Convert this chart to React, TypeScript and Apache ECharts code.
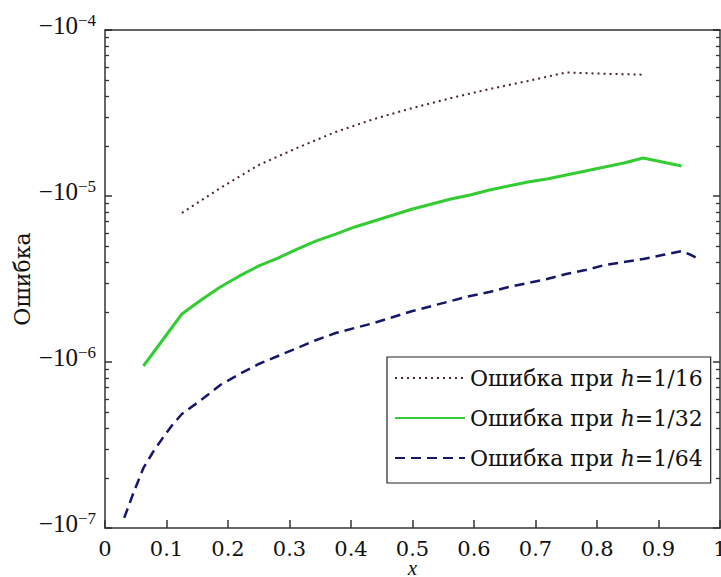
import React, { useEffect, useRef } from "react";
import * as echarts from "echarts";

const X_TICKS = [0, 0.1, 0.2, 0.3, 0.4, 0.5, 0.6, 0.7, 0.8, 0.9, 1];

const X16 = [0.125, 0.1875, 0.25, 0.3125, 0.375, 0.4375, 0.5, 0.5625, 0.625, 0.6875, 0.75, 0.8125, 0.875];
const ERR16 = [7.9e-6, 1.117e-5, 1.537e-5, 1.95e-5, 2.43e-5, 2.91e-5, 3.39e-5, 3.89e-5, 4.41e-5, 4.93e-5, 5.55e-5, 5.45e-5, 5.38e-5];

const X32 = [0.0625, 0.09375, 0.125, 0.15625, 0.1875, 0.21875, 0.25, 0.28125, 0.3125, 0.34375, 0.375, 0.40625, 0.4375, 0.46875, 0.5, 0.53125, 0.5625, 0.59375, 0.625, 0.65625, 0.6875, 0.71875, 0.75, 0.78125, 0.8125, 0.84375, 0.875, 0.90625, 0.9375];
const ERR32 = [9.46e-7, 1.357e-6, 1.946e-6, 2.363e-6, 2.83e-6, 3.3e-6, 3.79e-6, 4.23e-6, 4.79e-6, 5.36e-6, 5.9e-6, 6.51e-6, 7.07e-6, 7.68e-6, 8.35e-6, 8.95e-6, 9.59e-6, 1.014e-5, 1.087e-5, 1.149e-5, 1.214e-5, 1.266e-5, 1.338e-5, 1.414e-5, 1.495e-5, 1.58e-5, 1.694e-5, 1.603e-5, 1.516e-5];

const X64 = [0.03125, 0.046875, 0.0625, 0.078125, 0.09375, 0.109375, 0.125, 0.15625, 0.1875, 0.21875, 0.25, 0.28125, 0.3125, 0.34375, 0.375, 0.40625, 0.4375, 0.46875, 0.5, 0.53125, 0.5625, 0.59375, 0.625, 0.65625, 0.6875, 0.71875, 0.75, 0.78125, 0.8125, 0.84375, 0.875, 0.90625, 0.9375, 0.953125, 0.96875];
const ERR64 = [1.15e-7, 1.65e-7, 2.3e-7, 2.87e-7, 3.48e-7, 4.17e-7, 4.86e-7, 5.9e-7, 7.27e-7, 8.47e-7, 9.73e-7, 1.087e-6, 1.214e-6, 1.357e-6, 1.495e-6, 1.603e-6, 1.718e-6, 1.867e-6, 2.028e-6, 2.174e-6, 2.33e-6, 2.5e-6, 2.64e-6, 2.83e-6, 2.99e-6, 3.16e-6, 3.39e-6, 3.58e-6, 3.84e-6, 4.0e-6, 4.17e-6, 4.41e-6, 4.66e-6, 4.41e-6, 4.12e-6];

const SERIES_NAMES = ["Ошибка при h=1/16", "Ошибка при h=1/32", "Ошибка при h=1/64"];
const Y_NAME = "Ошибка";
const X_NAME = "x";

const FONT = "Liberation Serif";
const FONT_WIDE = "DejaVu Serif";
const AXIS_COLOR = "#333";
const TEXT = "#111";

const pairs = (xs: number[], ys: number[]) => xs.map((x, i) => [x, ys[i]]);

export default function App() {
  const ref = useRef<HTMLDivElement>(null);
  useEffect(() => {
    if (!ref.current) return;
    const chart = echarts.init(ref.current, null, { renderer: "svg" });
    const yLabel = {
      show: true,
      margin: 9,
      formatter: (v: number) => {
        const e = Math.round(Math.log10(v));
        return `{b|−10}{s|−${-e}}`;
      },
      padding: [0, 0, 10, 0],
      rich: {
        b: { fontFamily: FONT, fontSize: 25, color: TEXT, lineHeight: 26, verticalAlign: "bottom" },
        s: { fontFamily: FONT, fontSize: 17, color: TEXT, lineHeight: 16, verticalAlign: "top" },
      },
    };
    chart.setOption({
      animation: false,
      backgroundColor: "#fff",
      grid: { left: 105, right: 1, top: 30, bottom: 49, containLabel: false, outerBoundsMode: "none" },
      legend: {
        show: true,
        orient: "vertical",
        left: 387,
        top: 357,
        backgroundColor: "#fff",
        borderColor: "#222",
        borderWidth: 1.2,
        borderRadius: 0,
        padding: [10, 8, 14, 7],
        itemGap: 18,
        itemWidth: 70,
        itemHeight: 14,
        itemStyle: { opacity: 0 },
        data: SERIES_NAMES,
        formatter: (name: string) => {
          const i = name.indexOf("h=");
          return `{a|${name.slice(0, i)}}{i|h}{a|${name.slice(i + 1)}}`;
        },
        textStyle: {
          rich: {
            a: { fontFamily: FONT_WIDE, fontSize: 22, color: TEXT, lineHeight: 26 },
            i: { fontFamily: FONT_WIDE, fontSize: 22, fontStyle: "italic", color: TEXT, lineHeight: 26 },
          },
        },
      },
      xAxis: [
        {
          type: "value",
          min: 0,
          max: 1,
          interval: 0.1,
          name: X_NAME,
          nameLocation: "middle",
          nameGap: 33,
          nameMoveOverlap: false,
          nameTextStyle: { fontFamily: FONT, fontSize: 21, lineHeight: 14, fontStyle: "italic", color: TEXT },
          axisLine: { show: true, lineStyle: { color: AXIS_COLOR, width: 1.5 } },
          axisTick: { show: true, inside: true, length: 8, lineStyle: { color: AXIS_COLOR, width: 1.5 } },
          axisLabel: {
            show: true,
            margin: 10,
            fontFamily: FONT_WIDE,
            fontSize: 21,
            color: TEXT,
            formatter: (v: number) => {
              const s = X_TICKS.find((t) => Math.abs(t - v) < 1e-9);
              return s === undefined ? "" : String(s);
            },
          },
          splitLine: { show: false },
        },
        {
          type: "value",
          position: "top",
          min: 0,
          max: 1,
          axisLine: { show: true, onZero: false, lineStyle: { color: AXIS_COLOR, width: 1.5 } },
          axisTick: { show: false },
          axisLabel: { show: false },
          splitLine: { show: false },
        },
      ],
      yAxis: [
        {
          type: "log",
          logBase: 10,
          min: 1e-7,
          max: 1e-4,
          name: Y_NAME,
          nameLocation: "middle",
          nameGap: 72,
          nameMoveOverlap: false,
          nameRotate: 90,
          nameTextStyle: { fontFamily: FONT_WIDE, fontSize: 22, color: TEXT },
          axisLine: { show: true, lineStyle: { color: AXIS_COLOR, width: 1.5 } },
          axisTick: { show: true, inside: true, length: 7, lineStyle: { color: AXIS_COLOR, width: 1.5 } },
          minorTick: { show: true, splitNumber: 9, length: 4, lineStyle: { color: AXIS_COLOR, width: 1.3 } },
          axisLabel: yLabel,
          splitLine: { show: false },
          minorSplitLine: { show: false },
        },
        {
          type: "log",
          logBase: 10,
          min: 1e-7,
          max: 1e-4,
          position: "right",
          axisLine: { show: true, onZero: false, lineStyle: { color: AXIS_COLOR, width: 1.5 } },
          axisTick: { show: true, inside: true, length: 7, lineStyle: { color: AXIS_COLOR, width: 1.5 } },
          minorTick: { show: true, splitNumber: 9, length: 4, lineStyle: { color: AXIS_COLOR, width: 1.3 } },
          axisLabel: { show: false },
          splitLine: { show: false },
        },
      ],
      series: [
        {
          name: SERIES_NAMES[0],
          type: "line",
          data: pairs(X16, ERR16),
          symbol: "none",
          lineStyle: { color: "#4a2424", width: 2, type: [2, 4] },
          itemStyle: { color: "#4a2424" },
        },
        {
          name: SERIES_NAMES[1],
          type: "line",
          data: pairs(X32, ERR32),
          symbol: "none",
          lineStyle: { color: "#33cc33", width: 3 },
          itemStyle: { color: "#33cc33" },
        },
        {
          name: SERIES_NAMES[2],
          type: "line",
          data: pairs(X64, ERR64),
          symbol: "none",
          lineStyle: { color: "#16166b", width: 2.5, type: [10, 6] },
          itemStyle: { color: "#16166b" },
        },
      ],
    });
    return () => chart.dispose();
  }, []);
  return <div ref={ref} style={{ position: "fixed", left: 0, top: 0, width: 721, height: 577 }} />;
}
